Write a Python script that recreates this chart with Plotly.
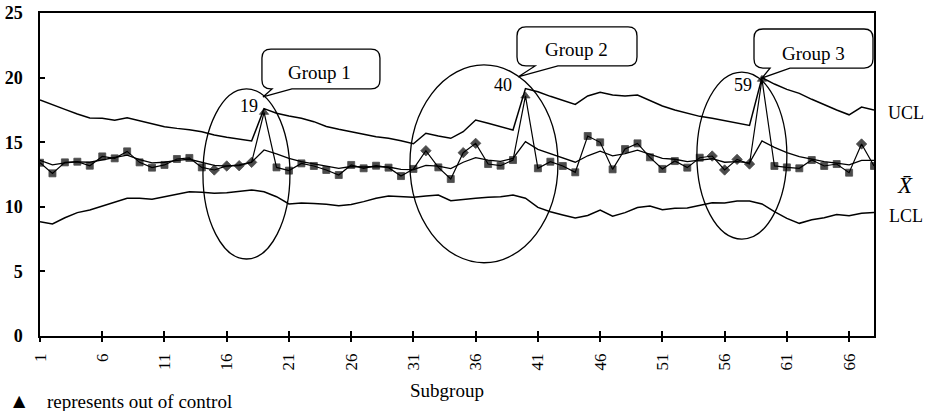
import plotly.graph_objects as go

# ---------------- data ----------------
subgroups = list(range(1, 69))

xbar = [13.41, 12.59, 13.44, 13.49, 13.18, 13.90, 13.75, 14.29, 13.44, 13.03,
        13.24, 13.70, 13.78, 13.05, 12.85, 13.16, 13.18, 13.44, 17.31, 13.05,
        12.80, 13.36, 13.16, 12.85, 12.46, 13.24, 12.98, 13.18, 13.03, 12.38,
        12.93, 14.34, 13.05, 12.15, 14.19, 14.91, 13.31, 13.18, 13.62, 18.58,
        12.98, 13.49, 13.16, 12.67, 15.48, 14.99, 12.90, 14.47, 14.91, 13.83,
        12.93, 13.54, 13.03, 13.80, 13.93, 12.85, 13.67, 13.31, 19.87, 13.16,
        13.05, 12.98, 13.62, 13.16, 13.31, 12.64, 14.86, 13.16]

center = [13.60, 13.25, 13.40, 13.48, 13.45, 13.65, 13.80, 14.00, 13.65, 13.40,
          13.45, 13.60, 13.68, 13.45, 13.20, 13.15, 13.25, 13.45, 14.40, 14.10,
          13.75, 13.50, 13.35, 13.15, 12.98, 13.12, 13.08, 13.12, 13.08, 12.90,
          12.88, 13.20, 13.15, 12.95, 13.45, 13.80, 13.62, 13.52, 13.75, 15.04,
          14.45, 14.12, 13.80, 13.45, 13.95, 14.30, 13.95, 14.12, 14.38, 14.08,
          13.75, 13.68, 13.50, 13.62, 13.72, 13.45, 13.50, 13.40, 15.10, 14.60,
          14.20, 13.88, 13.68, 13.50, 13.38, 13.25, 13.60, 13.60]

ucl = [18.27, 17.88, 17.54, 17.18, 16.88, 16.85, 16.70, 16.90, 16.67, 16.41,
       16.20, 16.07, 15.97, 15.81, 15.56, 15.38, 15.22, 15.09, 17.60, 17.24,
       17.03, 16.85, 16.59, 16.22, 16.00, 15.81, 15.60, 15.43, 15.30, 15.12,
       14.88, 15.69, 15.48, 15.30, 15.81, 16.72, 16.46, 16.20, 15.94, 19.15,
       18.90, 18.55, 18.24, 17.92, 18.58, 18.87, 18.65, 18.58, 18.65, 18.21,
       17.80, 17.49, 17.24, 17.00, 16.85, 16.67, 16.51, 16.30, 20.00, 19.50,
       19.09, 18.78, 18.32, 17.88, 17.49, 17.12, 17.72, 17.50]

lcl = [8.85, 8.67, 9.15, 9.55, 9.75, 10.06, 10.40, 10.66, 10.66, 10.58,
       10.78, 10.96, 11.17, 11.12, 11.04, 11.09, 11.22, 11.30, 11.17, 10.78,
       10.22, 10.30, 10.25, 10.20, 10.08, 10.18, 10.40, 10.66, 10.84, 10.78,
       10.73, 10.84, 10.91, 10.47, 10.58, 10.66, 10.73, 10.78, 10.91, 10.66,
       9.95, 9.62, 9.37, 9.13, 9.33, 9.75, 9.27, 9.55, 9.95, 10.06,
       9.78, 9.88, 9.90, 10.12, 10.32, 10.30, 10.45, 10.45, 10.22, 9.62,
       9.10, 8.72, 9.00, 9.15, 9.40, 9.30, 9.50, 9.55]

out_of_control = [19, 40, 59]
diamond_points = [15, 16, 17, 18, 32, 35, 36, 55, 56, 57, 58, 67]

x_tickvals = [1, 6, 11, 16, 21, 26, 31, 36, 41, 46, 51, 56, 61, 66]
y_tickvals = [0, 5, 10, 15, 20, 25]

group_labels = ["Group 1", "Group 2", "Group 3"]
# ellipse extents (data units) around each group
ellipses = [(14.09, 21.08, 5.96, 19.12),
            (30.72, 42.61, 5.67, 20.98),
            (53.77, 61.00, 7.50, 20.43)]
# callout boxes: x0, x1, ybottom, ytop, tail base a, tail base b, tip x, tip y, text x, text y
callouts = [(18.83, 28.31, 19.12, 22.21, 19.64, 21.24, 18.91, 18.50, 23.49, 20.43),
            (39.32, 48.96, 20.90, 23.92, 40.77, 42.61, 39.40, 20.05, 44.06, 22.14),
            (58.36, 67.92, 20.74, 23.76, 59.65, 61.25, 59.00, 19.97, 63.10, 21.90)]
point_label_shift = {19: (-15, 6), 40: (-22, 11), 59: (-19, -6)}

FONT = "Liberation Serif, Times New Roman, serif"

# ---------------- figure ----------------
fig = go.Figure()

line_style = dict(color="black", width=1.5)
fig.add_trace(go.Scatter(x=subgroups, y=ucl, mode="lines", line=line_style,
                         hoverinfo="skip", showlegend=False))
fig.add_trace(go.Scatter(x=subgroups, y=lcl, mode="lines", line=line_style,
                         hoverinfo="skip", showlegend=False))
fig.add_trace(go.Scatter(x=subgroups, y=center, mode="lines", line=dict(color="black", width=1.3),
                         hoverinfo="skip", showlegend=False))

symbols = []
sizes = []
for s in subgroups:
    if s in out_of_control:
        symbols.append("triangle-up"); sizes.append(8)
    elif s in diamond_points:
        symbols.append("diamond"); sizes.append(8)
    else:
        symbols.append("square"); sizes.append(7)

fig.add_trace(go.Scatter(x=subgroups, y=xbar, mode="lines+markers",
                         line=dict(color="black", width=1.2),
                         marker=dict(symbol=symbols, size=sizes, color="black",
                                     line=dict(color="black", width=0.8)),
                         showlegend=False))

# invisible trace for the overlay axis (inside half of the crossing x ticks)
fig.add_trace(go.Scatter(x=subgroups, y=xbar, mode="lines", line=dict(width=0, color="rgba(0,0,0,0)"),
                         xaxis="x2", hoverinfo="skip", showlegend=False))

shapes = []
for (x0, x1, y0, y1) in ellipses:
    shapes.append(dict(type="circle", xref="x", yref="y", x0=x0, x1=x1, y0=y0, y1=y1,
                       line=dict(color="black", width=1.3)))

rx, ry = 0.72, 0.70
annotations = []
for lab, (x0, x1, yb, yt, ta, tb, tx, ty, lx, ly) in zip(group_labels, callouts):
    path = (f"M {x0+rx},{yt} L {x1-rx},{yt} Q {x1},{yt} {x1},{yt-ry} "
            f"L {x1},{yb+ry} Q {x1},{yb} {x1-rx},{yb} "
            f"L {tb},{yb} L {tx},{ty} L {ta},{yb} "
            f"L {x0+rx},{yb} Q {x0},{yb} {x0},{yb+ry} "
            f"L {x0},{yt-ry} Q {x0},{yt} {x0+rx},{yt} Z")
    shapes.append(dict(type="path", xref="x", yref="y", path=path,
                       line=dict(color="black", width=1.3), fillcolor="white", layer="above"))
    annotations.append(dict(x=lx, y=ly, xref="x", yref="y", text=lab, showarrow=False,
                            xanchor="center", yanchor="middle",
                            font=dict(family=FONT, size=19, color="black")))

for s in out_of_control:
    dx, dy = point_label_shift[s]
    annotations.append(dict(x=s, y=xbar[s - 1], xref="x", yref="y", text=str(s), showarrow=False,
                            xanchor="center", yanchor="middle",
                            xshift=dx, yshift=dy, font=dict(family=FONT, size=18, color="black")))

annotations += [
    dict(x=1.0144, y=0.6904, xref="paper", yref="paper", xanchor="left", yanchor="middle",
         text="UCL", showarrow=False, font=dict(family=FONT, size=18, color="black")),
    dict(x=1.0372, y=0.466, xref="paper", yref="paper", xanchor="center", yanchor="middle",
         text="<i>X̄</i>", showarrow=False, font=dict(family=FONT, size=23, color="black")),
    dict(x=1.0156, y=0.3715, xref="paper", yref="paper", xanchor="left", yanchor="middle",
         text="LCL", showarrow=False, font=dict(family=FONT, size=18, color="black")),
    dict(x=0.488, y=-0.1672, xref="paper", yref="paper", xanchor="center", yanchor="middle",
         text="Subgroup", showarrow=False, font=dict(family=FONT, size=19, color="black")),
    dict(x=-0.024, y=-0.2012, xref="paper", yref="paper", xanchor="center", yanchor="middle",
         text="▲", showarrow=False, font=dict(family="DejaVu Sans", size=16, color="black")),
    dict(x=0.006, y=-0.2043, xref="paper", yref="paper", xanchor="left", yanchor="middle",
         text="represents out of control",
         showarrow=False, font=dict(family=FONT, size=19, color="black")),
]

fig.update_layout(
    width=925, height=411,
    margin=dict(l=40, r=51, t=13, b=75),
    paper_bgcolor="white", plot_bgcolor="white",
    shapes=shapes, annotations=annotations,
    xaxis=dict(range=[1, 68], tickvals=x_tickvals, ticktext=[str(v) for v in x_tickvals],
               tickangle=-90, ticks="outside", ticklen=4, tickwidth=1.5, tickcolor="black",
               showline=True, linecolor="black", linewidth=1.5, mirror=True,
               showgrid=False, zeroline=False, ticklabelstandoff=5, automargin=False,
               tickfont=dict(family=FONT, size=17, color="black")),
    xaxis2=dict(range=[1, 68], overlaying="x", side="bottom", anchor="y", automargin=False,
                tickvals=x_tickvals, ticks="inside", ticklen=5, tickwidth=1.5, tickcolor="black",
                showticklabels=False, showline=False, showgrid=False, zeroline=False),
    yaxis=dict(range=[0, 25], tickvals=y_tickvals, ticks="inside", ticklen=5, tickwidth=1.5,
               tickcolor="black", showline=True, linecolor="black", linewidth=1.5, mirror=True,
               showgrid=False, zeroline=False, ticklabelstandoff=12, automargin=False,
               tickfont=dict(family=FONT, size=18, color="black", weight="bold")),
)

fig.write_html("out.html")
